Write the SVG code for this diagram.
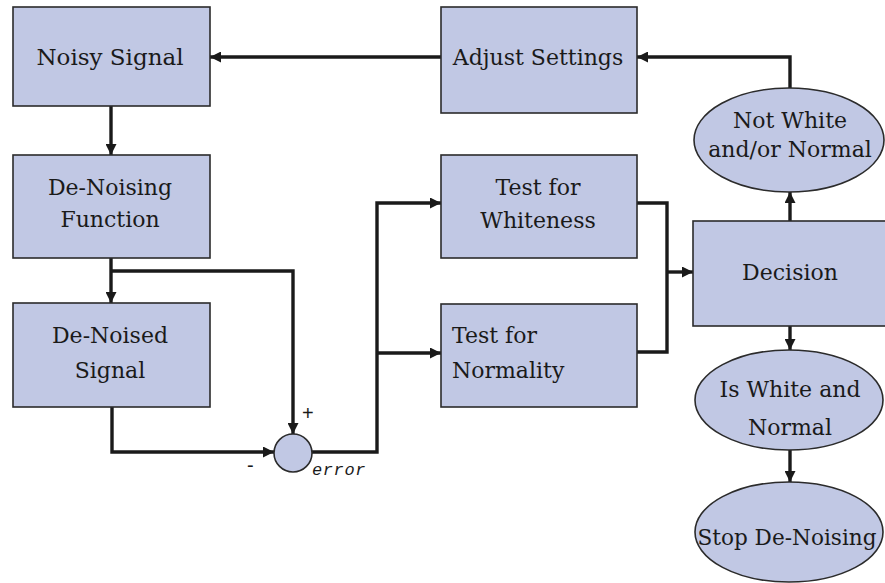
<svg xmlns="http://www.w3.org/2000/svg" width="885" height="583" viewBox="0 0 885 583">
  <defs>
    <style>
      .box { fill: #c1c8e4; stroke: #2b2b2b; stroke-width: 1.6; }
      text.lbl { font-family: 'DejaVu Serif', 'Liberation Serif', serif; font-size: 22px; fill: #1a1a1a; text-anchor: middle; }
      text.left { text-anchor: start; }
      .wire { fill: none; stroke: #1a1a1a; stroke-width: 3.4; stroke-linejoin: miter; }
      text.sign { font-family: 'Liberation Sans', Arial, sans-serif; font-size: 20px; fill: #1a1a1a; }
      text.err { font-family: 'Liberation Mono', 'Courier New', monospace; font-style: italic; font-size: 17px; letter-spacing: 0.6px; fill: #1a1a1a; }
    </style>
    <marker id="arrow" viewBox="0 0 10 10" refX="10" refY="5" markerWidth="11" markerHeight="11" markerUnits="userSpaceOnUse" orient="auto">
      <path d="M0,0 L10,5 L0,10 z" fill="#1a1a1a"/>
    </marker>
  </defs>

  <rect width="885" height="583" fill="#ffffff"/>

  <!-- connectors -->
  <g id="connectors">
    <path class="wire" d="M441,57 H210" marker-end="url(#arrow)"/>
    <path class="wire" d="M111,106 V155" marker-end="url(#arrow)"/>
    <path class="wire" d="M111,258 V303" marker-end="url(#arrow)"/>
    <path class="wire" d="M111,271 H293 V434" marker-end="url(#arrow)"/>
    <path class="wire" d="M112,407 V452 H274" marker-end="url(#arrow)"/>
    <path class="wire" d="M312,452 H377 V203 H441" marker-end="url(#arrow)"/>
    <path class="wire" d="M377,353 H441" marker-end="url(#arrow)"/>
    <path class="wire" d="M637,203 H667 V352 H637"/>
    <path class="wire" d="M667,272 H693" marker-end="url(#arrow)"/>
    <path class="wire" d="M790,221 V192" marker-end="url(#arrow)"/>
    <path class="wire" d="M790,88 V57 H637" marker-end="url(#arrow)"/>
    <path class="wire" d="M790,326 V350" marker-end="url(#arrow)"/>
    <path class="wire" d="M790,450 V482" marker-end="url(#arrow)"/>
  </g>

  <g id="noisy-signal">
    <rect class="box" x="13" y="7" width="197" height="99"/>
    <text class="lbl" x="110" y="65" style="font-size:23px">Noisy Signal</text>
  </g>

  <g id="denoising-function">
    <rect class="box" x="13" y="155" width="197" height="103"/>
    <text class="lbl" x="110" y="195">De-Noising</text>
    <text class="lbl" x="110" y="227">Function</text>
  </g>

  <g id="denoised-signal">
    <rect class="box" x="13" y="303" width="197" height="104"/>
    <text class="lbl" x="110" y="343">De-Noised</text>
    <text class="lbl" x="110" y="378">Signal</text>
  </g>

  <g id="summing-junction">
    <circle class="box" cx="293" cy="453" r="19"/>
    <text class="sign" x="302" y="420">+</text>
    <text class="sign" x="247" y="472">-</text>
    <text class="err" x="312" y="475">error</text>
  </g>

  <g id="adjust-settings">
    <rect class="box" x="441" y="7" width="196" height="106"/>
    <text class="lbl" x="538" y="65">Adjust Settings</text>
  </g>

  <g id="test-whiteness">
    <rect class="box" x="441" y="155" width="196" height="103"/>
    <text class="lbl" x="538" y="195">Test for</text>
    <text class="lbl" x="538" y="228">Whiteness</text>
  </g>

  <g id="test-normality">
    <rect class="box" x="441" y="304" width="196" height="103"/>
    <text class="lbl left" x="452" y="343">Test for</text>
    <text class="lbl left" x="452" y="378">Normality</text>
  </g>

  <g id="decision">
    <rect class="box" x="693" y="221" width="200" height="105"/>
    <text class="lbl" x="790" y="280">Decision</text>
  </g>

  <g id="not-white">
    <ellipse class="box" cx="789" cy="140" rx="95" ry="52"/>
    <text class="lbl" x="790" y="128">Not White</text>
    <text class="lbl" x="790" y="157">and/or Normal</text>
  </g>

  <g id="is-white">
    <ellipse class="box" cx="789" cy="400" rx="94" ry="50"/>
    <text class="lbl" x="790" y="397">Is White and</text>
    <text class="lbl" x="790" y="435">Normal</text>
  </g>

  <g id="stop-denoising">
    <ellipse class="box" cx="789" cy="532" rx="94" ry="50"/>
    <text class="lbl" x="787" y="545" style="font-size:21.6px">Stop De-Noising</text>
  </g>
</svg>
